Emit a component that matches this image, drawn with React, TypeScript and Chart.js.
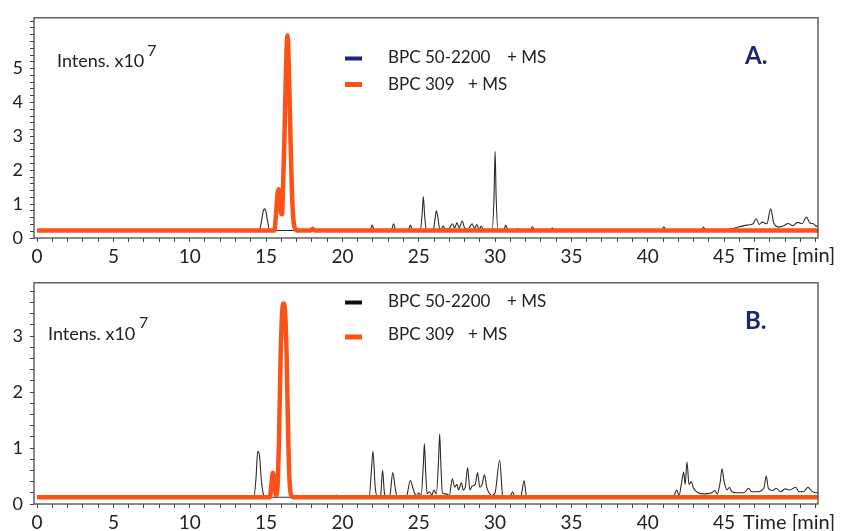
import React, { useEffect, useRef } from 'react';
import { Chart, registerables } from 'chart.js';

Chart.register(...registerables);

// ---------- data ----------
const X_TICK_LABELS = [0, 5, 10, 15, 20, 25, 30, 35, 40, 45];
const A_Y_TICK_LABELS = [0, 1, 2, 3, 4, 5];
const B_Y_TICK_LABELS = [0, 1, 2, 3];

const SERIES_NAMES = ['BPC 50-2200', 'BPC 309'];

// Panel A: BPC 50-2200 (time [min], intensity x10^7)
const A_BLACK: number[][] = [
  [0, 0.22], [14.55, 0.22], [14.7, 0.5], [14.82, 0.8], [14.9, 0.86], [14.98, 0.8], [15.1, 0.5], [15.25, 0.22],
  [21.8, 0.22], [21.95, 0.38], [22.1, 0.22], [23.2, 0.22], [23.35, 0.42], [23.5, 0.22],
  [24.3, 0.22], [24.45, 0.38], [24.6, 0.22], [25.1, 0.22], [25.22, 0.7], [25.3, 1.22], [25.38, 0.7], [25.5, 0.22],
  [25.95, 0.25], [26.08, 0.6], [26.15, 0.8], [26.25, 0.62], [26.35, 0.3], [26.45, 0.25], [26.6, 0.35], [26.75, 0.25],
  [27.0, 0.28], [27.2, 0.42], [27.35, 0.3], [27.5, 0.45], [27.65, 0.3], [27.85, 0.5], [28.0, 0.3], [28.2, 0.25],
  [28.5, 0.42], [28.65, 0.28], [28.8, 0.4], [28.95, 0.25], [29.1, 0.35], [29.25, 0.22],
  [29.8, 0.22], [29.93, 1.2], [30.0, 2.56], [30.07, 1.2], [30.2, 0.22],
  [30.55, 0.22], [30.7, 0.38], [30.85, 0.22], [31.4, 0.22], [31.5, 0.28], [31.6, 0.22],
  [32.3, 0.22], [32.45, 0.33], [32.6, 0.22], [33.6, 0.22], [33.75, 0.3], [33.9, 0.22],
  [39.1, 0.22], [39.2, 0.26], [39.3, 0.22], [40.9, 0.22], [41.05, 0.33], [41.2, 0.22],
  [43.5, 0.22], [43.65, 0.32], [43.8, 0.22], [45.0, 0.24], [45.6, 0.28], [46.0, 0.33], [46.5, 0.38],
  [46.9, 0.42], [47.1, 0.57], [47.3, 0.4], [47.5, 0.47], [47.8, 0.42], [48.05, 0.86], [48.25, 0.45],
  [48.6, 0.32], [48.9, 0.36], [49.2, 0.43], [49.5, 0.36], [49.8, 0.46], [50.1, 0.42], [50.4, 0.62],
  [50.6, 0.45], [50.85, 0.42], [51.0, 0.36], [51.15, 0.33],
];

// Panel A: BPC 309
const A_ORANGE: number[][] = [
  [0, 0.22], [15.55, 0.22], [15.65, 0.7], [15.75, 1.3], [15.82, 1.44], [15.9, 1.15], [15.98, 0.75], [16.04, 0.7],
  [16.1, 1.3], [16.2, 2.9], [16.3, 4.9], [16.4, 5.98], [16.5, 4.9], [16.6, 2.9], [16.7, 1.3], [16.8, 0.5],
  [16.92, 0.26], [17.05, 0.22], [17.9, 0.22], [18.05, 0.27], [18.2, 0.22], [51.15, 0.22],
];

// Panel B: BPC 50-2200
const B_BLACK: number[][] = [
  [0, 0.12], [14.2, 0.12], [14.35, 0.5], [14.45, 0.94], [14.55, 0.9], [14.7, 0.4], [14.85, 0.15], [15.0, 0.12],
  [19.5, 0.12], [19.6, 0.16], [19.7, 0.12], [21.75, 0.12], [21.9, 0.6], [22.0, 0.94], [22.15, 0.3], [22.3, 0.12],
  [22.5, 0.15], [22.63, 0.6], [22.75, 0.2], [22.9, 0.12], [23.1, 0.14], [23.3, 0.56], [23.45, 0.3], [23.6, 0.12],
  [24.2, 0.15], [24.45, 0.42], [24.6, 0.3], [24.75, 0.18], [24.9, 0.15], [25.0, 0.2], [25.15, 0.15],
  [25.3, 0.7], [25.37, 1.08], [25.45, 0.6], [25.55, 0.18], [25.7, 0.22], [25.85, 0.16], [26.0, 0.25], [26.15, 0.18],
  [26.3, 0.8], [26.37, 1.25], [26.45, 0.7], [26.55, 0.2], [26.8, 0.18], [27.0, 0.15], [27.2, 0.45], [27.35, 0.3],
  [27.5, 0.35], [27.6, 0.25], [27.8, 0.38], [27.9, 0.25], [28.05, 0.3], [28.2, 0.65], [28.35, 0.25], [28.5, 0.32],
  [28.7, 0.35], [28.85, 0.56], [29.0, 0.3], [29.15, 0.35], [29.3, 0.52], [29.45, 0.3], [29.6, 0.2], [29.8, 0.15],
  [30.0, 0.2], [30.3, 0.78], [30.5, 0.15], [30.7, 0.12], [31.0, 0.14], [31.15, 0.22], [31.3, 0.12],
  [31.7, 0.15], [31.9, 0.42], [32.05, 0.15], [32.3, 0.12], [41.5, 0.12], [41.7, 0.14], [41.9, 0.25], [42.05, 0.15],
  [42.2, 0.35], [42.35, 0.57], [42.45, 0.35], [42.57, 0.75], [42.7, 0.35], [42.85, 0.4], [43.0, 0.28], [43.3, 0.2],
  [43.7, 0.18], [44.2, 0.2], [44.4, 0.24], [44.55, 0.18], [44.75, 0.4], [44.86, 0.63], [45.0, 0.4], [45.2, 0.25],
  [45.35, 0.3], [45.5, 0.22], [45.9, 0.2], [46.3, 0.2], [46.6, 0.28], [46.8, 0.22], [47.2, 0.22], [47.6, 0.28],
  [47.76, 0.5], [47.9, 0.28], [48.2, 0.24], [48.4, 0.28], [48.7, 0.22], [49.0, 0.27], [49.3, 0.25], [49.7, 0.3],
  [49.9, 0.22], [50.2, 0.22], [50.5, 0.3], [50.7, 0.24], [51.0, 0.2], [51.15, 0.2],
];

// Panel B: BPC 309
const B_ORANGE: number[][] = [
  [0, 0.12], [15.25, 0.12], [15.35, 0.35], [15.45, 0.56], [15.55, 0.38], [15.65, 0.16], [15.75, 0.3],
  [15.85, 1.2], [15.95, 2.6], [16.05, 3.4], [16.15, 3.58], [16.25, 3.4], [16.35, 2.6], [16.45, 1.2],
  [16.55, 0.35], [16.68, 0.14], [16.8, 0.12], [51.15, 0.12],
];

// ---------- styling ----------
const FONT = 'Lato, "Open Sans", sans-serif';
const ORANGE = '#fc5218';
const TRACE = '#2b2b2b';
const NAVY = '#1c2577';
const TEXT = '#222222';

type PanelCfg = {
  black: number[][];
  orange: number[][];
  yMax: number;
  yLabels: number[];
  tag: string;
  legendBlackColor: string;
  intensX: number;
  intensY: number;
  supX: number;
  supY: number;
  row1Y: number;
  row2Y: number;
  dash1Y: number;
  dash2Y: number;
  tagY: number;
  timeY: number;
};

const PANELS: PanelCfg[] = [
  {
    black: A_BLACK, orange: A_ORANGE, yMax: 6.5, yLabels: A_Y_TICK_LABELS, tag: 'A.',
    legendBlackColor: NAVY, intensX: 57, intensY: 61, supX: 147, supY: 51,
    row1Y: 58, row2Y: 85, dash1Y: 58.5, dash2Y: 84.5, tagY: 56, timeY: 256,
  },
  {
    black: B_BLACK, orange: B_ORANGE, yMax: 3.95, yLabels: B_Y_TICK_LABELS, tag: 'B.',
    legendBlackColor: '#111111', intensX: 48, intensY: 69, supX: 139, supY: 58,
    row1Y: 36.5, row2Y: 70, dash1Y: 37.5, dash2Y: 72, tagY: 56.5, timeY: 258,
  },
];

const X_MIN = -0.2;
const X_MAX = 51.15;

const toPoints = (arr: number[][]) => arr.map(([x, y]) => ({ x, y }));

const overlayPlugin = {
  id: 'overlay',
  afterDraw(chart: any, _args: any, opts: any) {
    const p: PanelCfg = opts.panel;
    if (!p) return;
    const { ctx, chartArea: ca } = chart;
    ctx.save();
    // frame
    ctx.strokeStyle = '#4a4a4a';
    ctx.lineWidth = 1.3;
    ctx.strokeRect(ca.left, ca.top, ca.right - ca.left, ca.bottom - ca.top);

    ctx.textBaseline = 'middle';
    ctx.textAlign = 'left';
    ctx.fillStyle = TEXT;
    // intensity label
    ctx.font = `18px ${FONT}`;
    const intens = 'Intens. x10';
    ctx.fillText(intens, p.intensX, p.intensY);
    const w = ctx.measureText(intens).width;
    ctx.font = `16px ${FONT}`;
    ctx.fillText('7', Math.max(p.supX, p.intensX + w + 3), p.supY);

    // legend
    ctx.lineCap = 'butt';
    ctx.strokeStyle = p.legendBlackColor;
    ctx.lineWidth = 4;
    ctx.beginPath(); ctx.moveTo(345, p.dash1Y); ctx.lineTo(362, p.dash1Y); ctx.stroke();
    ctx.strokeStyle = ORANGE;
    ctx.lineWidth = 5;
    ctx.beginPath(); ctx.moveTo(345, p.dash2Y); ctx.lineTo(362, p.dash2Y); ctx.stroke();
    ctx.font = `17px ${FONT}`;
    ctx.fillStyle = TEXT;
    ctx.fillText(SERIES_NAMES[0], 388, p.row1Y);
    ctx.fillText('+ MS', 507, p.row1Y);
    ctx.fillText(SERIES_NAMES[1], 388, p.row2Y);
    ctx.fillText('+ MS', 468, p.row2Y);

    // panel tag
    ctx.font = `bold 24px ${FONT}`;
    ctx.fillStyle = NAVY;
    ctx.fillText(p.tag, 745, p.tagY);

    // axis title
    ctx.font = `20px ${FONT}`;
    ctx.fillStyle = TEXT;
    ctx.fillText('Time [min]', 743, p.timeY);
    ctx.restore();
  },
};

function buildChart(canvas: HTMLCanvasElement, p: PanelCfg) {
  const xMinor: number[] = [];
  for (let v = 0; v <= 51; v++) xMinor.push(v);
  const yMinor: number[] = [];
  for (let k = 0; k * 0.2 <= p.yMax + 1e-9; k++) yMinor.push(Math.round(k * 0.2 * 10) / 10);

  return new Chart(canvas, {
    type: 'line',
    data: {
      datasets: [
        {
          label: SERIES_NAMES[1] + ' + MS',
          data: toPoints(p.orange),
          borderColor: ORANGE,
          borderWidth: 4.5,
          pointRadius: 0,
          cubicInterpolationMode: 'monotone',
          order: 0,
        },
        {
          label: SERIES_NAMES[0] + ' + MS',
          data: toPoints(p.black),
          borderColor: TRACE,
          borderWidth: 1.1,
          pointRadius: 0,
          cubicInterpolationMode: 'monotone',
          order: 1,
        },
      ],
    },
    options: {
      animation: false,
      responsive: false,
      events: [],
      layout: { padding: { top: 12, right: 28, left: 0, bottom: 0 } },
      plugins: {
        legend: { display: false },
        tooltip: { enabled: false },
        overlay: { panel: p },
      } as any,
      scales: {
        x: {
          type: 'linear',
          min: X_MIN,
          max: X_MAX,
          afterBuildTicks: (scale: any) => {
            scale.ticks = xMinor.map((v) => ({ value: v }));
          },
          afterFit: (scale: any) => {
            scale.height = 27;
          },
          ticks: {
            autoSkip: false,
            maxRotation: 0,
            minRotation: 0,
            padding: 3,
            color: TEXT,
            font: { family: FONT, size: 19 },
            callback: (v: any) => (X_TICK_LABELS.includes(Number(v)) ? String(v) : ''),
          },
          grid: { drawOnChartArea: false, drawTicks: true, tickLength: 4, color: '#444' },
          border: { display: false },
        },
        y: {
          type: 'linear',
          min: 0,
          max: p.yMax,
          afterBuildTicks: (scale: any) => {
            scale.ticks = yMinor.map((v) => ({ value: v }));
          },
          afterFit: (scale: any) => {
            scale.width = 34;
          },
          ticks: {
            autoSkip: false,
            padding: 7,
            color: TEXT,
            font: { family: FONT, size: 18 },
            callback: (v: any) => {
              const n = Number(v);
              return p.yLabels.some((l) => Math.abs(l - n) < 1e-6) ? String(Math.round(n)) : '';
            },
          },
          grid: { drawOnChartArea: false, drawTicks: true, tickLength: 4, color: '#444' },
          border: { display: false },
        },
      },
    },
    plugins: [overlayPlugin],
  } as any);
}

function Panel({ p, height }: { p: PanelCfg; height: number }) {
  const ref = useRef<HTMLCanvasElement | null>(null);
  useEffect(() => {
    if (!ref.current) return;
    const chart = buildChart(ref.current, p);
    return () => chart.destroy();
  }, [p, height]);
  return <canvas ref={ref} width={846} height={height} style={{ display: 'block', width: 846, height }} />;
}

export default function App() {
  return (
    <div style={{ position: 'fixed', left: 0, top: 0, width: 846, height: 531, background: '#fff', overflow: 'hidden' }}>
      <Panel p={PANELS[0]} height={265} />
      <Panel p={PANELS[1]} height={266} />
    </div>
  );
}
